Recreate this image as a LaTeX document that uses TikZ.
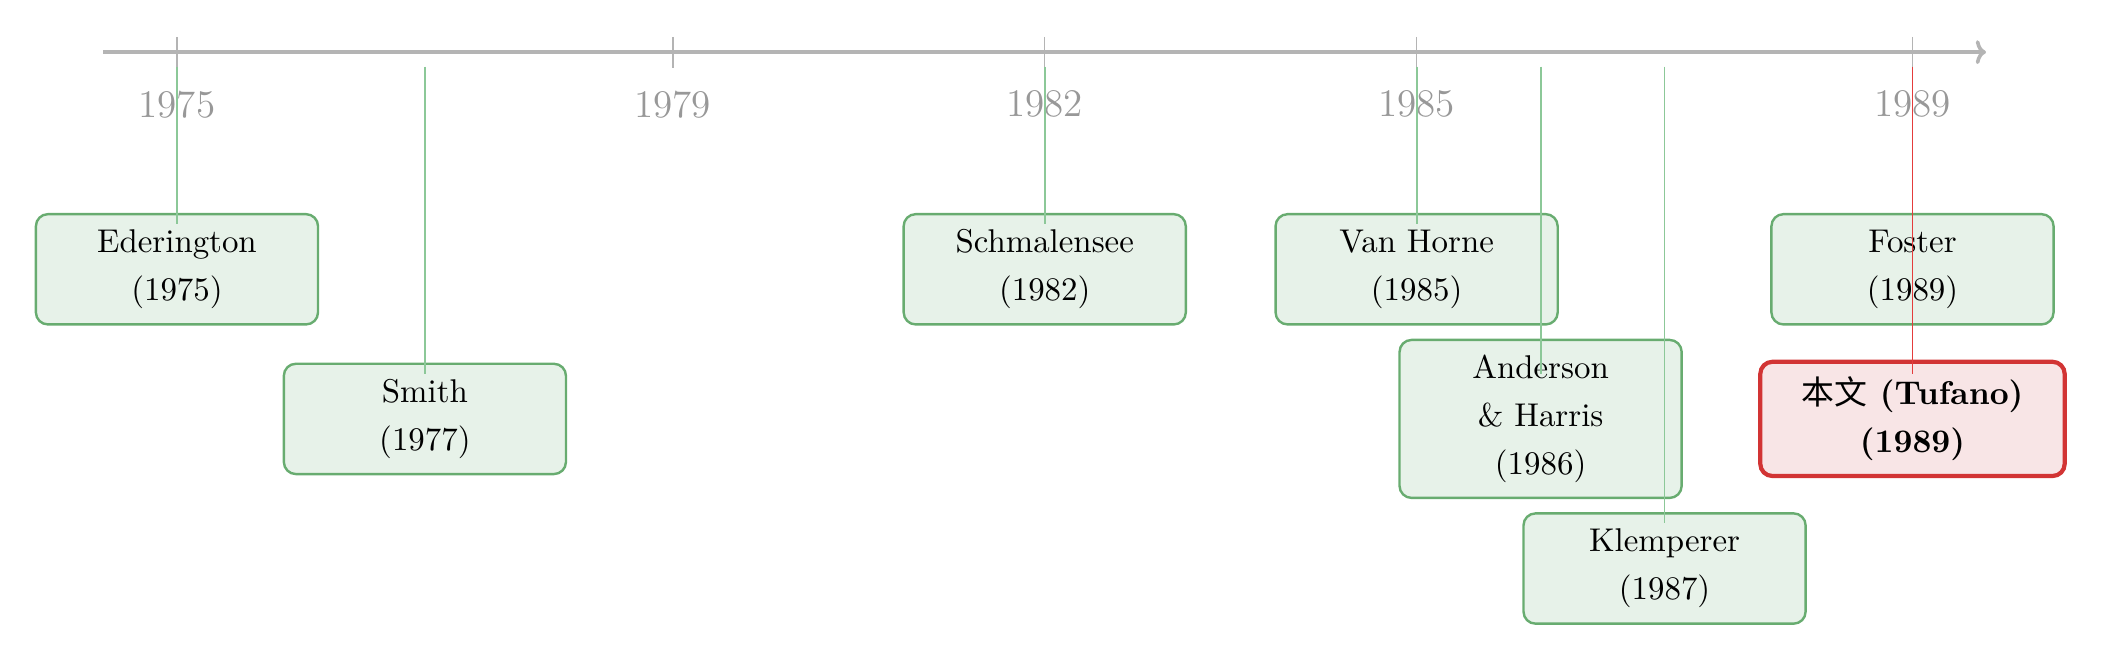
\documentclass[tikz,border=0pt]{standalone}
\usepackage{fontspec}
\newfontfamily\cjk{Noto Sans CJK SC}
\usepackage{tikz}
\usetikzlibrary{arrows.meta, positioning, calc}
\usepackage{xcolor}

\definecolor{axisgray}{RGB}{180,180,180}
\definecolor{yeargray}{RGB}{152,152,152}
\definecolor{boxgreen}{RGB}{104,172,112}
\definecolor{boxfill}{RGB}{231,242,233}
\definecolor{linkgreen}{RGB}{140,200,152}
\definecolor{ourred}{RGB}{210,52,52}
\definecolor{linkred}{RGB}{228,60,60}
\definecolor{ourfill}{RGB}{248,229,230}

\tikzset{
  paperbox/.style={draw=boxgreen, fill=boxfill, line width=0.8pt, rounded corners=4pt,
    align=center, minimum width=3.3cm, minimum height=1.29cm, inner ysep=5pt,
    font=\fontsize{10.95}{16}\selectfont},
  ourbox/.style={paperbox, draw=ourred, fill=ourfill, line width=1.4pt,
    minimum width=3.56cm, font=\fontsize{10.95}{16}\selectfont\bfseries},
  yearlbl/.style={text=yeargray, font=\fontsize{13}{15}\selectfont},
  yeartick/.style={draw=axisgray, line width=0.5pt},
  link/.style={draw=linkgreen, line width=0.6pt},
}

\begin{document}
\begin{tikzpicture}
  \useasboundingbox (-2.07,-7.13) rectangle (22.54,0.61);

  % Time axis
  \coordinate (axisstart) at (-0.86,0);
  \coordinate (axisend) at (21.16,0);
  \coordinate (axisbot) at (0,-0.17);
  \draw[axisgray, line width=1.2pt, -{To[length=1.2mm, width=2.8mm]}] (axisstart) -- (axisend);

  \foreach \yr in {1975,1979,1982,1985,1989}{
    \draw[yeartick] ({(\yr-1975)*1.45},0.18) -- ++(0,-0.36);
    \node[yearlbl] (y\yr) at ({(\yr-1975)*1.45},-0.61) {\yr};
  }

  % Papers
  \node[paperbox] (eder)   at (0,-2.54)     {Ederington\\(1975)};
  \node[paperbox] (smith)  at (2.9,-4.29)   {Smith\\(1977)};
  \node[paperbox] (schm)   at (10.15,-2.54) {Schmalensee\\(1982)};
  \node[paperbox] (vanh)   at (14.5,-2.54)  {Van Horne\\(1985)};
  \node[paperbox] (andh)   at (15.95,-4.29) {Anderson\\\& Harris\\(1986)};
  \node[paperbox] (klemp)  at (17.4,-6.04)  {Klemperer\\(1987)};
  \node[paperbox] (foster) at (20.3,-2.54)  {Foster\\(1989)};
  \node[ourbox]   (tufano) at (20.3,-4.29)  {{\cjk\mdseries 本文} (Tufano)\\(1989)};

  % Links to the axis
  \foreach \b in {eder, smith, schm, vanh, andh, klemp, foster}{
    \draw[link] (\b |- axisbot) -- ([yshift=5.3mm]\b.center);
  }
  \draw[draw=linkred, line width=0.6pt] (tufano |- axisbot) -- ([yshift=5.3mm]tufano.center);

\end{tikzpicture}
\end{document}
